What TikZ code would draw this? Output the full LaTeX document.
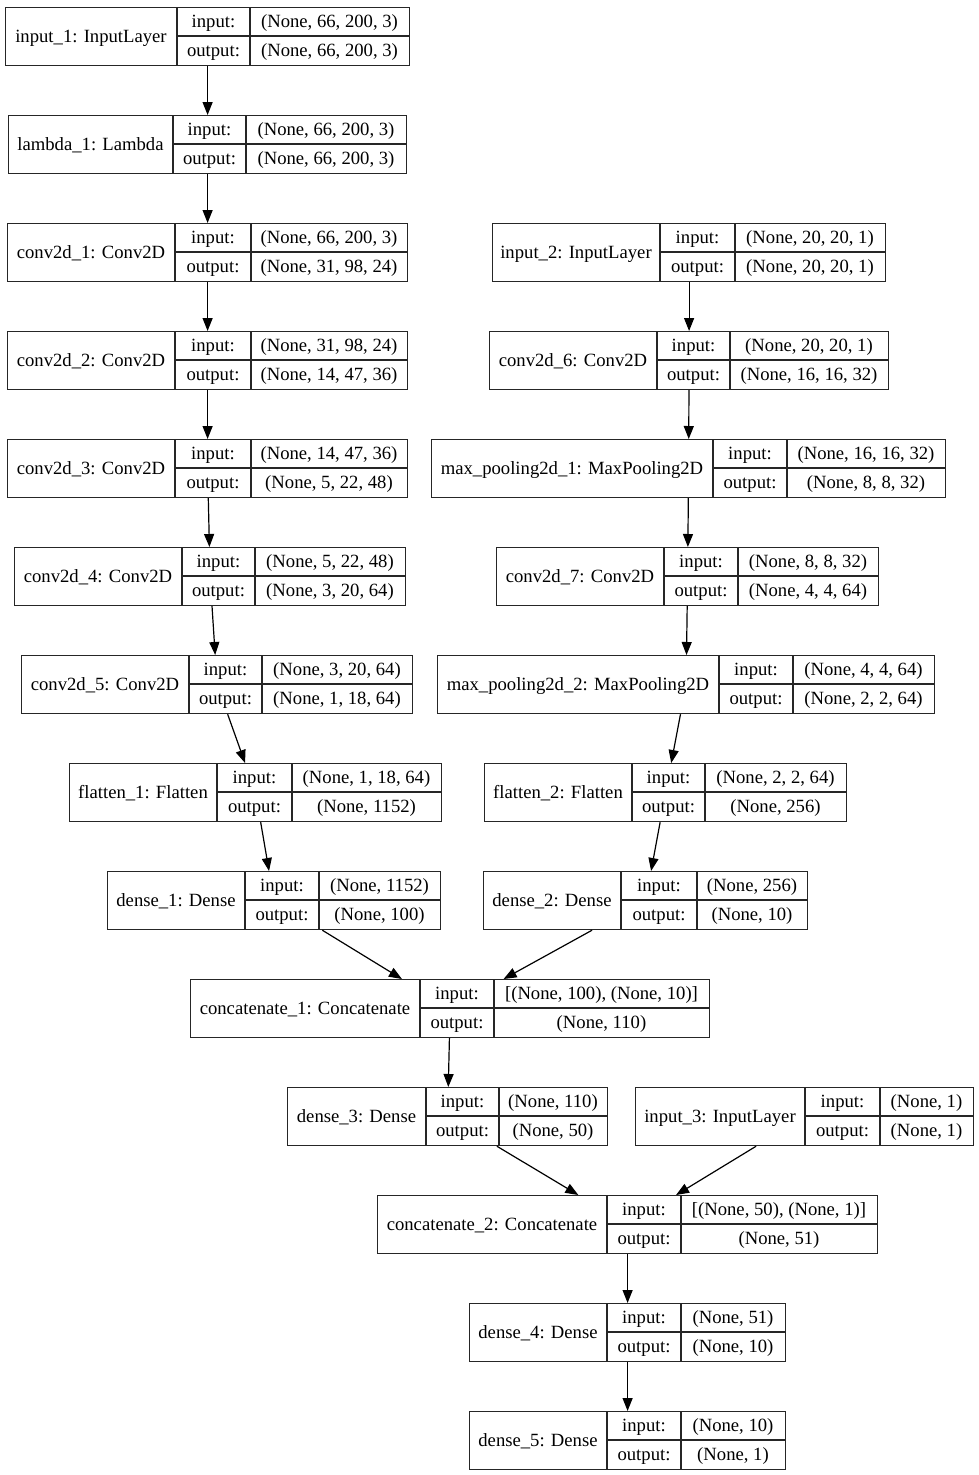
\documentclass[tikz,border=0pt]{standalone}
\usepackage{fontspec}
\setmainfont{Liberation Serif}
\usetikzlibrary{arrows.meta}
\tikzset{
  layerbox/.style={draw=black!85, line width=1.2pt, inner sep=0pt, anchor=north west},
  cellline/.style={draw=black!85, line width=1.2pt},
  celltext/.style={inner sep=0pt, anchor=base, font=\fontsize{18.67}{22}\selectfont},
  flow/.style={draw=black, line width=1.2pt, -{Triangle[length=13pt,width=10pt]}},
}
% #1 name, #2 left, #3 div1, #4 div2, #5 right, #6 top, #7 label, #8 input shape, #9 output shape
\newcommand{\kerasLayer}[9]{%
  \node[layerbox, minimum width={(#5-#2)*1pt}, minimum height=58pt] (#1) at (#2,-#6) {};
  \draw[cellline] (#3,-#6) -- (#3,-#6-58);
  \draw[cellline] (#4,-#6) -- (#4,-#6-58);
  \draw[cellline] (#3,-#6-29) -- (#5,-#6-29);
  \node[celltext] (#1-name) at ({(#2+#3)/2},{-#6-35}) {#7};
  \node[celltext] (#1-inl) at ({(#3+#4)/2},{-#6-20.5}) {input:};
  \node[celltext] (#1-outl) at ({(#3+#4)/2},{-#6-49.5}) {output:};
  \node[celltext] (#1-in) at ({(#4+#5)/2},{-#6-20.5}) {#8};
  \node[celltext] (#1-out) at ({(#4+#5)/2},{-#6-49.5}) {#9};
}
\begin{document}
\begin{tikzpicture}[x=1pt,y=1pt]
\useasboundingbox (0,0) rectangle (979,-1475);
\kerasLayer{input1}{5}{177}{250}{409}{7}{input\_1: InputLayer}{(None, 66, 200, 3)}{(None, 66, 200, 3)}
\kerasLayer{lambda1}{8}{173}{246}{406}{115}{lambda\_1: Lambda}{(None, 66, 200, 3)}{(None, 66, 200, 3)}
\kerasLayer{conv1}{7}{175}{251}{407}{223}{conv2d\_1: Conv2D}{(None, 66, 200, 3)}{(None, 31, 98, 24)}
\kerasLayer{input2}{492}{660}{735}{885}{223}{input\_2: InputLayer}{(None, 20, 20, 1)}{(None, 20, 20, 1)}
\kerasLayer{conv2}{7}{175}{251}{407}{331}{conv2d\_2: Conv2D}{(None, 31, 98, 24)}{(None, 14, 47, 36)}
\kerasLayer{conv6}{489}{657}{730}{888}{331}{conv2d\_6: Conv2D}{(None, 20, 20, 1)}{(None, 16, 16, 32)}
\kerasLayer{conv3}{7}{175}{251}{407}{439}{conv2d\_3: Conv2D}{(None, 14, 47, 36)}{(None, 5, 22, 48)}
\kerasLayer{mp1}{431}{713}{787}{945}{439}{max\_pooling2d\_1: MaxPooling2D}{(None, 16, 16, 32)}{(None, 8, 8, 32)}
\kerasLayer{conv4}{14}{182}{255}{405}{547}{conv2d\_4: Conv2D}{(None, 5, 22, 48)}{(None, 3, 20, 64)}
\kerasLayer{conv7}{496}{664}{738}{878}{547}{conv2d\_7: Conv2D}{(None, 8, 8, 32)}{(None, 4, 4, 64)}
\kerasLayer{conv5}{21}{189}{262}{412}{655}{conv2d\_5: Conv2D}{(None, 3, 20, 64)}{(None, 1, 18, 64)}
\kerasLayer{mp2}{437}{719}{793}{934}{655}{max\_pooling2d\_2: MaxPooling2D}{(None, 4, 4, 64)}{(None, 2, 2, 64)}
\kerasLayer{flat1}{69}{217}{292}{441}{763}{flatten\_1: Flatten}{(None, 1, 18, 64)}{(None, 1152)}
\kerasLayer{flat2}{484}{632}{705}{846}{763}{flatten\_2: Flatten}{(None, 2, 2, 64)}{(None, 256)}
\kerasLayer{dense1}{107}{245}{319}{440}{871}{dense\_1: Dense}{(None, 1152)}{(None, 100)}
\kerasLayer{dense2}{483}{621}{697}{807}{871}{dense\_2: Dense}{(None, 256)}{(None, 10)}
\kerasLayer{concat1}{190}{420}{494}{709}{979}{concatenate\_1: Concatenate}{[(None, 100), (None, 10)]}{(None, 110)}
\kerasLayer{dense3}{287}{426}{499}{607}{1087}{dense\_3: Dense}{(None, 110)}{(None, 50)}
\kerasLayer{input3}{635}{805}{880}{973}{1087}{input\_3: InputLayer}{(None, 1)}{(None, 1)}
\kerasLayer{concat2}{377}{607}{681}{877}{1195}{concatenate\_2: Concatenate}{[(None, 50), (None, 1)]}{(None, 51)}
\kerasLayer{dense4}{469}{607}{681}{785}{1303}{dense\_4: Dense}{(None, 51)}{(None, 10)}
\kerasLayer{dense5}{469}{607}{681}{785}{1411}{dense\_5: Dense}{(None, 10)}{(None, 1)}
\draw[flow] (input1) -- (lambda1);
\draw[flow] (lambda1) -- (conv1);
\draw[flow] (conv1) -- (conv2);
\draw[flow] (conv2) -- (conv3);
\draw[flow] (conv3) -- (conv4);
\draw[flow] (conv4) -- (conv5);
\draw[flow] (conv5) -- (flat1);
\draw[flow] (flat1) -- (dense1);
\draw[flow] (dense1) -- (concat1);
\draw[flow] (input2) -- (conv6);
\draw[flow] (conv6) -- (mp1);
\draw[flow] (mp1) -- (conv7);
\draw[flow] (conv7) -- (mp2);
\draw[flow] (mp2) -- (flat2);
\draw[flow] (flat2) -- (dense2);
\draw[flow] (dense2) -- (concat1);
\draw[flow] (concat1) -- (dense3);
\draw[flow] (dense3) -- (concat2);
\draw[flow] (input3) -- (concat2);
\draw[flow] (concat2) -- (dense4);
\draw[flow] (dense4) -- (dense5);
\end{tikzpicture}
\end{document}
